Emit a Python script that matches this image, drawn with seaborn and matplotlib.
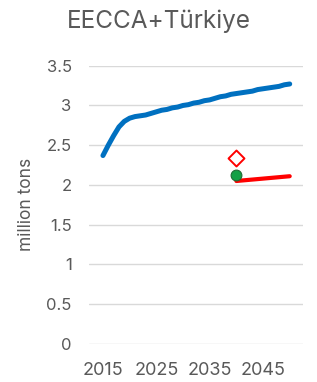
import numpy as np
import pandas as pd
import matplotlib
matplotlib.use("Agg")
import matplotlib.pyplot as plt
import seaborn as sns

# Baseline projection (blue)
YEARS = list(range(2015, 2051))
BASELINE = [2.37, 2.50, 2.62, 2.73, 2.80, 2.84, 2.86, 2.87, 2.88, 2.90,
            2.92, 2.94, 2.95, 2.97, 2.98, 3.00, 3.01, 3.03, 3.04, 3.06,
            3.07, 3.09, 3.11, 3.12, 3.14, 3.15, 3.16, 3.17, 3.18, 3.20,
            3.21, 3.22, 3.23, 3.24, 3.26, 3.27]

# Scenario (red) from 2040 onwards
SCEN_YEARS = [2040, 2045, 2050]
SCENARIO = [2.05, 2.08, 2.11]

# Single markers at 2040
TARGET_YEAR = [2040]
TARGET_DIAMOND = [2.34]
TARGET_DOT = [2.12]

XTICKS = [2015, 2025, 2035, 2045]
YTICKS = [0, 0.5, 1, 1.5, 2, 2.5, 3, 3.5]
YTICK_LABELS = ["0", "0.5", "1", "1.5", "2", "2.5", "3", "3.5"]

sns.set_theme(style="white")
plt.rcParams["font.family"] = ["Inter", "DejaVu Sans"]

fig = plt.figure(figsize=(3.17, 3.82), dpi=100)
ax = fig.add_axes([0.281, 0.0995, 0.675, 0.7285])

base = pd.DataFrame({"year": YEARS, "value": BASELINE})
scen = pd.DataFrame({"year": SCEN_YEARS, "value": SCENARIO})

sns.lineplot(data=base, x="year", y="value", ax=ax, color="#0070c0",
             linewidth=3.6, solid_capstyle="round", zorder=3)
sns.lineplot(data=scen, x="year", y="value", ax=ax, color="#ff0000",
             linewidth=3.0, solid_capstyle="round", zorder=3)
ax.scatter(TARGET_YEAR, TARGET_DOT, s=60, color="#14a046",
           edgecolor="#1e6b35", linewidth=0.8, zorder=5)
ax.scatter(TARGET_YEAR, TARGET_DIAMOND, s=66, marker="D", facecolor="white",
           edgecolor="#ff0000", linewidth=1.4, zorder=5)

ax.set_xlim(2012.4, 2052.5)
ax.set_ylim(0, 3.5)
ax.set_xticks(XTICKS)
ax.set_yticks(YTICKS)
ax.set_yticklabels(YTICK_LABELS)
ax.yaxis.grid(True, color="#d9d9d9", linewidth=1.0)
ax.xaxis.grid(False)
for s in ax.spines.values():
    s.set_visible(False)
ax.tick_params(axis="both", length=0, colors="#595959")
ax.tick_params(axis="y", pad=12.5, labelsize=12)
ax.tick_params(axis="x", pad=13, labelsize=13)
ax.set_xlabel("")
ax.set_ylabel("million tons", fontsize=12.5, color="#595959", labelpad=8.5)

fig.text(0.5, 0.945, "EECCA+Türkiye", ha="center", va="center",
         fontsize=17.5, color="#595959")

fig.savefig("out.png", dpi=100)
plt.close(fig)
